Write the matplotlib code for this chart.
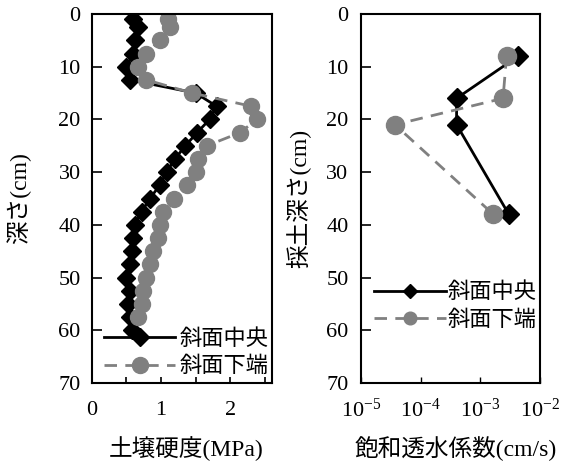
import matplotlib
matplotlib.use("Agg")
import matplotlib.pyplot as plt
from matplotlib.ticker import MultipleLocator, LogLocator, NullFormatter, FixedLocator

plt.rcParams["font.family"] = ["Liberation Serif", "Noto Sans CJK JP"]
plt.rcParams["font.size"] = 16
plt.rcParams["mathtext.fontset"] = "custom"
plt.rcParams["mathtext.rm"] = "Liberation Serif"

# soil hardness profile (left)
depth_mid = [1, 2.5, 5, 7.5, 10, 12.5, 15, 17.5, 20, 22.5, 25, 27.5, 30, 32.5,
             35, 37.5, 40, 42.5, 45, 47.5, 50, 52.5, 55, 57.5, 60]
hard_mid = [0.60, 0.67, 0.63, 0.60, 0.50, 0.55, 1.50, 1.80, 1.70, 1.52, 1.35, 1.20,
            1.08, 0.98, 0.84, 0.72, 0.62, 0.60, 0.58, 0.55, 0.50, 0.55, 0.53, 0.55, 0.58]
depth_low = [1, 2.5, 5, 7.5, 10, 12.5, 15, 17.5, 20, 22.5, 25, 27.5, 30, 32.5,
             35, 37.5, 40, 42.5, 45, 47.5, 50, 52.5, 55, 57.5]
hard_low = [1.10, 1.13, 0.98, 0.79, 0.67, 0.79, 1.45, 2.30, 2.38, 2.14, 1.66, 1.54,
            1.51, 1.37, 1.18, 1.03, 0.98, 0.96, 0.89, 0.84, 0.79, 0.74, 0.72, 0.67]

# saturated hydraulic conductivity (right)
ks_depth_mid = [8, 16, 21, 38]
ks_mid = [4.3e-3, 4.0e-4, 4.0e-4, 3.0e-3]
ks_depth_low = [8, 16, 21, 38]
ks_low = [2.75e-3, 2.4e-3, 3.7e-5, 1.65e-3]

labels = ["斜面中央", "斜面下端"]
gray = "#808080"

fig = plt.figure(figsize=(5.76, 4.62), dpi=100)
W, H = 576.0, 462.0
ax1 = fig.add_axes([91.7 / W, 1 - 383 / H, (272 - 91.7) / W, (383 - 14) / H])
ax2 = fig.add_axes([361 / W, 1 - 383 / H, (540 - 361) / W, (383 - 14) / H])

ax1.plot(hard_mid, depth_mid, color="black", lw=2, marker="D", ms=9, label=labels[0])
ax1.plot(hard_low, depth_low, color=gray, lw=2, dashes=(4.5, 3), marker="o", ms=11.5,
         label=labels[1])
ax1.set_xlim(0, 2.6)
ax1.set_ylim(70, 0)
ax1.xaxis.set_major_locator(FixedLocator([0, 1, 2]))
ax1.xaxis.set_minor_locator(MultipleLocator(0.5))
ax1.yaxis.set_major_locator(MultipleLocator(10))
ax1.tick_params(axis="y", direction="in", length=7, width=1.2, pad=8)
ax1.tick_params(axis="x", which="both", direction="in", length=4, width=1.2, pad=13)
ax1.set_xlabel("土壌硬度(MPa)", fontsize=17)
ax1.set_ylabel("深さ(cm)", fontsize=17)
ax1.xaxis.set_label_coords(0.525, -0.145)
ax1.yaxis.set_label_coords(-0.335, 0.5)
ax1.legend(loc="upper left", bbox_to_anchor=(0.07, 0.145), frameon=False, borderpad=0,
           borderaxespad=0, handlelength=3.2, handletextpad=0.2, labelspacing=0.3,
           numpoints=1, markerscale=1.0)

ax2.plot(ks_mid, ks_depth_mid, color="black", lw=2, marker="D", ms=10, label=labels[0])
ax2.plot(ks_low, ks_depth_low, color=gray, lw=2, dashes=(4.5, 3), marker="o", ms=13,
         label=labels[1])
ax2.set_xscale("log")
ax2.set_xlim(1e-5, 1e-2)
ax2.set_ylim(70, 0)
ax2.yaxis.set_major_locator(MultipleLocator(10))
ax2.xaxis.set_major_locator(LogLocator(base=10))
ax2.xaxis.set_minor_locator(LogLocator(base=10, subs=range(2, 10)))
ax2.xaxis.set_minor_formatter(NullFormatter())
ax2.set_xticks([1e-5, 1e-4, 1e-3, 1e-2])
ax2.set_xticklabels([r"$\mathregular{10^{-5}}$", r"$\mathregular{10^{-4}}$",
                     r"$\mathregular{10^{-3}}$", r"$\mathregular{10^{-2}}$"])
ax2.tick_params(axis="y", direction="in", length=7, width=1.2, pad=9)
ax2.tick_params(axis="x", which="both", direction="in", length=4, width=1, pad=11)
ax2.set_xlabel("飽和透水係数(cm/s)", fontsize=17)
ax2.set_ylabel("採土深さ(cm)", fontsize=17)
ax2.xaxis.set_label_coords(0.53, -0.145)
ax2.yaxis.set_label_coords(-0.28, 0.5)
ax2.legend(loc="upper left", bbox_to_anchor=(0.075, 0.272), frameon=False, borderpad=0,
           borderaxespad=0, handlelength=3.2, handletextpad=0.1, labelspacing=0.3,
           numpoints=1, markerscale=0.7)

for ax in (ax1, ax2):
    for s in ax.spines.values():
        s.set_linewidth(1.5)

fig.savefig("out.png", dpi=100)
